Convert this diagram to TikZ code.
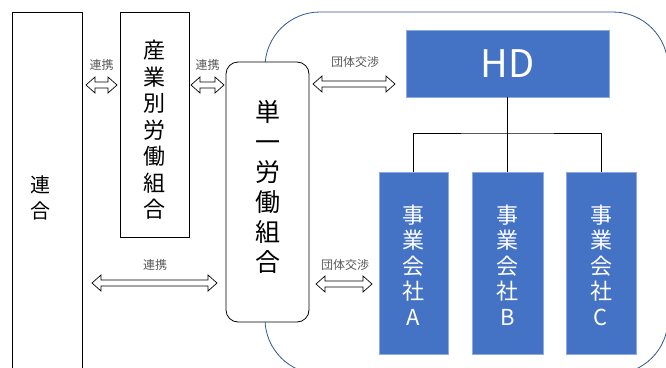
\documentclass[tikz,border=0pt]{standalone}
\usepackage{fontspec}
\newfontfamily\cjk{Noto Sans CJK JP}
\definecolor{hdblue}{HTML}{4472C4}
\definecolor{hdedge}{HTML}{8FAADC}
\definecolor{groupline}{HTML}{2F5597}
\definecolor{lbl}{HTML}{595959}
\tikzset{
  plainbox/.style={draw=black, line width=0.8pt, fill=white},
  bluebox/.style={draw=hdedge, line width=0.6pt, fill=hdblue},
  lab/.style={font=\cjk\fontsize{12}{14}\selectfont, text=lbl, inner sep=0pt},
  arr/.style={draw=black, line width=0.7pt, fill=white},
  tree/.style={draw=black, line width=1pt}
}
\newcommand\dblarr[3]{%
  \draw[arr] (#1,#3) -- ({#1+9},{#3-8}) -- ({#1+9},{#3-3}) -- ({#2-9},{#3-3}) -- ({#2-9},{#3-8}) -- (#2,#3)
    -- ({#2-9},{#3+8}) -- ({#2-9},{#3+3}) -- ({#1+9},{#3+3}) -- ({#1+9},{#3+8}) -- cycle;}
\begin{document}
\begin{tikzpicture}[x=1pt,y=-1pt]
\useasboundingbox (0,0) rectangle (666,367);
\begin{scope}
\clip (0,0) rectangle (666,367);
% group outline
\draw[groupline, line width=0.8pt, rounded corners=55pt] (265,12) rectangle (668,374);
% rengo
\draw[plainbox] (12,380) -- (12,12) -- (82,12) -- (82,380);
\end{scope}
\node[font=\cjk\fontsize{20}{26}\selectfont, align=center, inner sep=0pt] (rengo) at (40,198) {連\\合};
% sangyo
\node[plainbox, minimum width=69pt, minimum height=225pt, inner sep=0pt] (sangyo) at (154.5,124.5) {};
\node[font=\cjk\fontsize{22}{26.5}\selectfont, align=center, inner sep=0pt] at (154.5,130) {産\\業\\別\\労\\働\\組\\合};
% tanitsu
\node[plainbox, rounded corners=12pt, minimum width=83pt, minimum height=260pt, inner sep=0pt] (tan) at (267.5,192) {};
\node[font=\cjk\fontsize{25}{30}\selectfont, align=center, inner sep=0pt] at (267.5,187) {単\\一\\労\\働\\組\\合};
% HD
\node[bluebox, minimum width=203pt, minimum height=67pt, inner sep=0pt, text=white, font=\cjk\fontsize{38}{40}\selectfont] (hd) at (507.5,63.5) {HD};
% companies
\node[bluebox, minimum width=69pt, minimum height=182pt, inner sep=0pt] (ca) at (413.5,263) {};
\node[bluebox, minimum width=71pt, minimum height=182pt, inner sep=0pt] (cb) at (507.5,263) {};
\node[bluebox, minimum width=70pt, minimum height=182pt, inner sep=0pt] (cc) at (601,263) {};
\foreach \n/\l in {ca/A, cb/B, cc/C}
  \node[text=white, font=\cjk\fontsize{22}{25.5}\selectfont, align=center, inner sep=0pt] at ([yshift=-2pt]\n.center) {事\\業\\会\\社\\\l};
% tree
\coordinate (j) at (507.5,133);
\draw[tree] (hd.south) -- (j);
\draw[tree] (ca.north) |- (j) -| (cc.north);
\draw[tree] (j) -- (cb.north);
% arrows and labels
\dblarr{86}{117}{85}
\node[lab] at (101.5,65) {連携};
\dblarr{191}{224}{85}
\node[lab] at (207.5,65) {連携};
\dblarr{313}{395}{84}
\node[lab] at (355,62) {団体交渉};
\dblarr{92}{217}{283}
\node[lab] at (155,265) {連携};
\dblarr{316}{372}{284}
\node[lab] at (345,265) {団体交渉};
\end{tikzpicture}
\end{document}
